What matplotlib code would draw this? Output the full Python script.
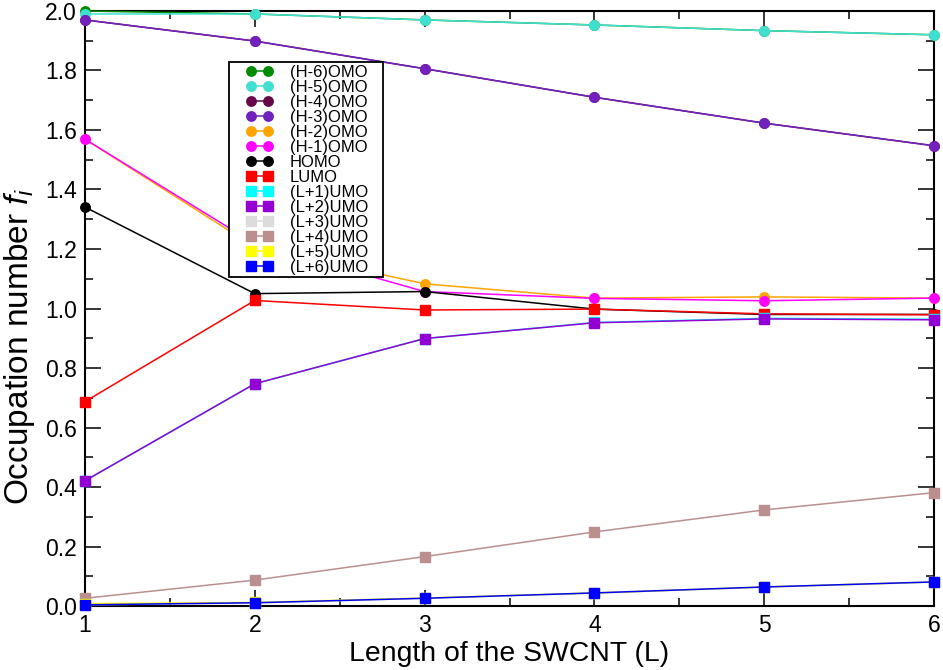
import numpy as np
import matplotlib
matplotlib.use("Agg")
import matplotlib.pyplot as plt
from matplotlib.ticker import MultipleLocator
from matplotlib.legend_handler import HandlerLine2D
from matplotlib.lines import Line2D

plt.rcParams["font.family"] = ["Liberation Sans", "DejaVu Sans"]
plt.rcParams["mathtext.fontset"] = "custom"
plt.rcParams["mathtext.it"] = "Liberation Sans:italic"
plt.rcParams["mathtext.rm"] = "Liberation Sans"

# longueur du nanotube
L = [1, 2, 3, 4, 5, 6]

# occupations
h6 = [2.000, 1.990, 1.970, 1.953, 1.934, 1.920]
h5 = [1.990, 1.990, 1.970, 1.953, 1.934, 1.920]
h4 = [1.970, 1.899, 1.806, 1.710, 1.623, 1.547]
h3 = [1.970, 1.899, 1.806, 1.710, 1.623, 1.547]
h2 = [1.569, 1.207, 1.083, 1.035, 1.039, 1.035]
h1 = [1.569, 1.218, 1.057, 1.034, 1.026, 1.035]
homo = [1.341, 1.050, 1.057, 0.998, 0.980, 0.980]
lumo = [0.687, 1.027, 0.995, 0.998, 0.982, 0.979]
l1 = [0.421, 0.747, 0.899, 0.953, 0.967, 0.964]
l2 = [0.421, 0.747, 0.899, 0.952, 0.965, 0.962]
l3 = [0.004, 0.010, 0.026, 0.043, 0.063, 0.080]
l4 = [0.026, 0.087, 0.166, 0.249, 0.323, 0.381]
l5 = [0.008, 0.012, 0.027, 0.044, 0.064, 0.081]
l6 = [0.004, 0.011, 0.026, 0.044, 0.064, 0.081]

series = [
    (h6, "(H-6)OMO", (0, 139/255, 0), "o"),
    (h5, "(H-5)OMO", (64/255, 224/255, 208/255), "o"),
    (h4, "(H-4)OMO", (103/255, 7/255, 72/255), "o"),
    (h3, "(H-3)OMO", (114/255, 33/255, 188/255), "o"),
    (h2, "(H-2)OMO", (1, 165/255, 0), "o"),
    (h1, "(H-1)OMO", (1, 0, 1), "o"),
    (homo, "HOMO", (0, 0, 0), "o"),
    (lumo, "LUMO", (1, 0, 0), "s"),
    (l1, "(L+1)UMO", (0, 1, 1), "s"),
    (l2, "(L+2)UMO", (148/255, 0, 211/255), "s"),
    (l3, "(L+3)UMO", (220/255, 220/255, 220/255), "s"),
    (l4, "(L+4)UMO", (188/255, 143/255, 143/255), "s"),
    (l5, "(L+5)UMO", (1, 1, 0), "s"),
    (l6, "(L+6)UMO", (0, 0, 1), "s"),
]

fig = plt.figure(figsize=(9.43, 6.70), dpi=100)
ax = fig.add_axes([0.0901, 0.0955, 0.9004, 0.8881])

for y, lab, col, m in series:
    ax.plot(L, y, color=col, marker=m, markersize=6.8, lw=1.1,
            label=lab, clip_on=False, zorder=3)

ax.set_xlim(1, 6)
ax.set_ylim(0, 2.0)
ax.xaxis.set_major_locator(MultipleLocator(1))
ax.xaxis.set_minor_locator(MultipleLocator(0.5))
ax.yaxis.set_major_locator(MultipleLocator(0.2))
ax.yaxis.set_minor_locator(MultipleLocator(0.1))
ax.tick_params(which="both", direction="in", top=True, right=True, width=1.1)
ax.tick_params(which="major", length=11.5, labelsize=16.5, pad=6)
ax.tick_params(which="minor", length=5.8)
for s in ax.spines.values():
    s.set_linewidth(1.5)

ax.set_xlabel("Length of the SWCNT (L)", fontsize=20.4)
ax.xaxis.set_label_coords(0.5, -0.058)
ax.set_ylabel("Occupation number $f_i$", fontsize=24)
ax.yaxis.set_label_coords(-0.056, 0.437)

leg = ax.legend(loc="upper left", bbox_to_anchor=(0.1696, 0.914, 0.1814, 0.0),
                mode="expand", fontsize=12,
                labelspacing=0.0, handlelength=3.32, handletextpad=0.19,
                borderpad=0.15, fancybox=False, framealpha=1,
                edgecolor="black", borderaxespad=0,
                handler_map={Line2D: HandlerLine2D(numpoints=2, marker_pad=1.15)})
leg.get_frame().set_linewidth(1.3)
leg.set_zorder(5)

fig.savefig("out.png", dpi=100)
